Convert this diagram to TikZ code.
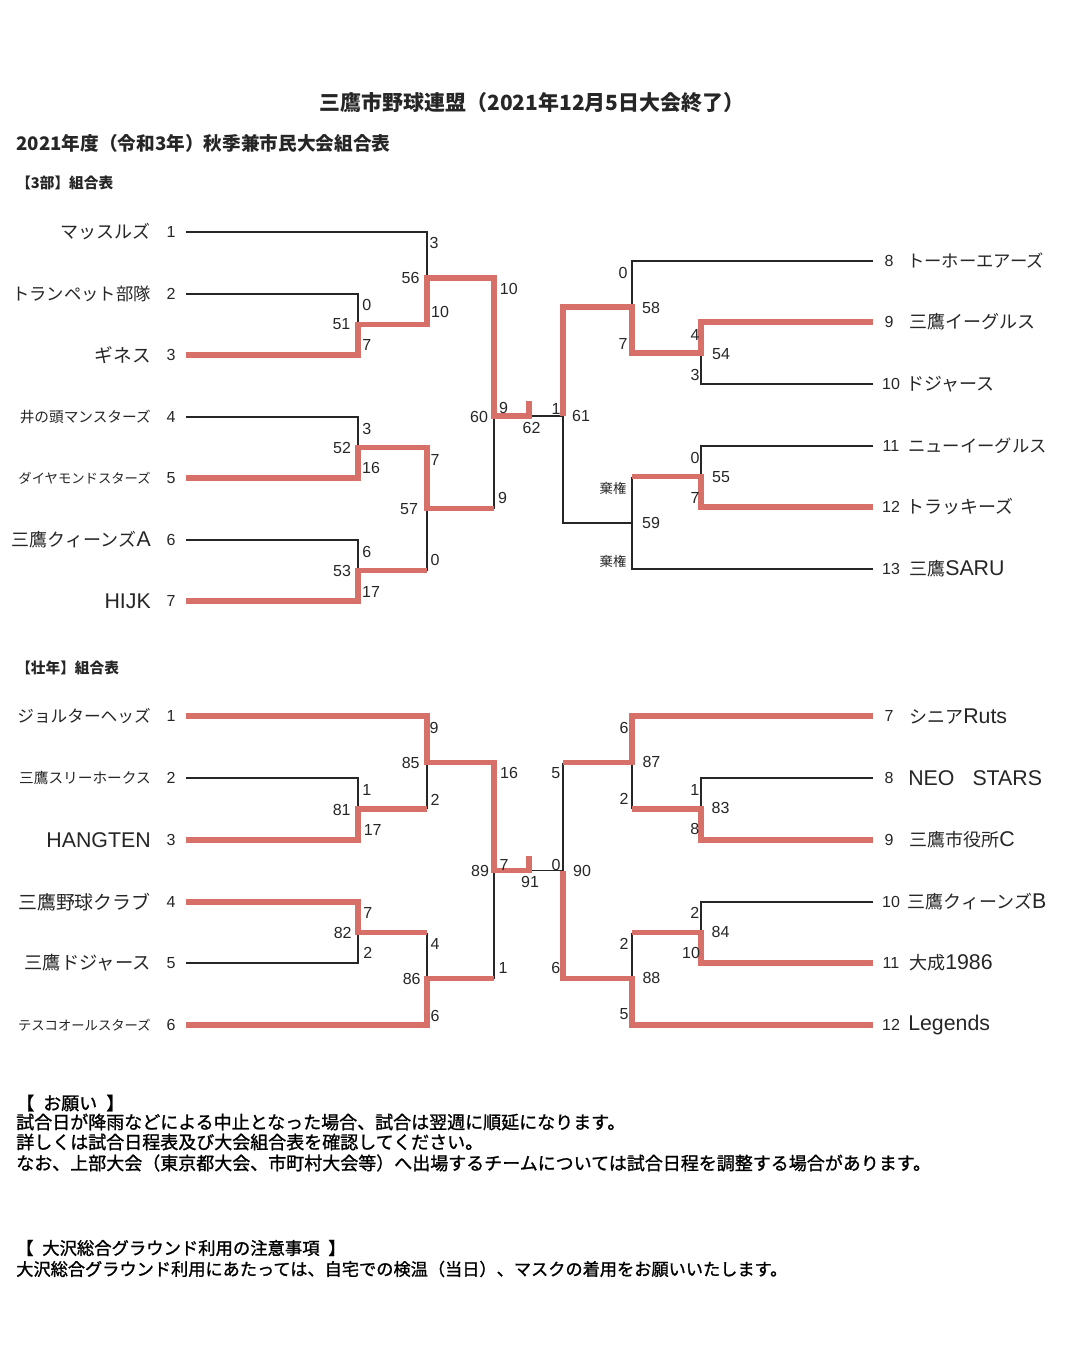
\documentclass[tikz,border=0pt]{standalone}
\usepackage{fontspec}
\setmainfont{Noto Sans CJK JP}
\newfontfamily\latfont{Liberation Sans}
\newfontfamily\footfont{Noto Sans CJK JP}[FakeBold=1.2]
\definecolor{winred}{RGB}{214,112,104}
\definecolor{ink}{RGB}{38,38,38}
\newcommand\latn[1]{{\latfont\fontsize{16}{18}\selectfont #1}}
\tikzset{
  lose/.style={draw=ink, line width=1pt},
  win/.style={draw=winred, line width=4pt, line join=miter},
  sc/.style={font=\latfont\fontsize{12}{13}\selectfont, text=ink, inner sep=0pt},
  tnum/.style={font=\latfont\fontsize{12}{13}\selectfont, text=ink, inner sep=0pt},
  lname/.style={anchor=east, inner sep=0pt, text=ink, font=\fontsize{13.5}{15}\selectfont},
  rname/.style={anchor=west, inner sep=0pt, text=ink, font=\fontsize{13.5}{15}\selectfont},
  kiken/.style={inner sep=0pt, text=ink, font=\fontsize{10}{11}\selectfont},
  head/.style={anchor=west, inner sep=0pt, text=ink},
  foot/.style={anchor=west, inner sep=0pt, text=black, font=\footfont\fontsize{13.5}{14}\selectfont}
}
\begin{document}
\begin{tikzpicture}[x=0.75pt,y=-0.75pt]
\useasboundingbox (0,0) rectangle (1092,1368);
\fill[white] (0,0) rectangle (1092,1368);

% ---------------- headings
\node[inner sep=0pt, text=ink, font=\bfseries\fontsize{15.7}{17}\selectfont] (title) at (532,103) {三鷹市野球連盟（2021年12月5日大会終了）};
\node[head, font=\bfseries\fontsize{14}{16}\selectfont] (sub) at (16,143) {2021年度（令和3年）秋季兼市民大会組合表};
\node[head, font=\bfseries\fontsize{11}{13}\selectfont] (sec1) at (16,183) {【3部】組合表};
\node[head, font=\bfseries\fontsize{11}{13}\selectfont] (sec2) at (16,668) {【壮年】組合表};

% ================= 3部 =================
\node[lname] (tA1) at (151,232) {マッスルズ};
\node[lname, font=\fontsize{13}{15}\selectfont] (tA2) at (151,294) {トランペット部隊};
\node[lname, font=\fontsize{14}{15}\selectfont] (tA3) at (151,355) {ギネス};
\node[lname, font=\fontsize{11}{13}\selectfont] (tA4) at (151,417) {井の頭マンスターズ};
\node[lname, font=\fontsize{10}{12}\selectfont] (tA5) at (151,478) {ダイヤモンドスターズ};
\node[lname] (tA6) at (151,540) {三鷹クィーンズ\latn{A}};
\node[lname] (tA7) at (151,601) {\latn{HIJK}};
\foreach \n/\y in {1/232,2/294,3/355,4/417,5/478,6/540,7/601}
  \node[tnum] (nA\n) at (171,\y) {\n};
\foreach \n/\y/\xx in {8/261/889,9/322/889,10/384/891,11/446/891,12/507/891,13/569/891}
  \node[tnum] (nA\n) at (\xx,\y) {\n};
\node[rname, font=\fontsize{13}{15}\selectfont] (tA8) at (907,261) {トーホーエアーズ};
\node[rname] (tA9) at (909,322) {三鷹イーグルス};
\node[rname] (tA10) at (906,384) {ドジャース};
\node[rname, font=\fontsize{13}{15}\selectfont] (tA11) at (908,446) {ニューイーグルス};
\node[rname] (tA12) at (906,507) {トラッキーズ};
\node[rname] (tA13) at (909,569) {三鷹\latn{SARU}};

\coordinate (s1) at (186,232); \coordinate (s2) at (186,294);
\coordinate (s3) at (186,355); \coordinate (s4) at (186,417);
\coordinate (s5) at (186,478); \coordinate (s6) at (186,540);
\coordinate (s7) at (186,601);
\coordinate (e8) at (873,261); \coordinate (e9) at (873,322);
\coordinate (e10) at (873,384); \coordinate (e11) at (873,446);
\coordinate (e12) at (873,507); \coordinate (e13) at (873,569);
\coordinate (a51) at (358,324.5); \coordinate (a52) at (358,447.5);
\coordinate (a53) at (358,570.5);
\coordinate (a56) at (427,278); \coordinate (a57) at (427,508.5);
\coordinate (k53) at (427,570.5); \coordinate (j57) at (494,508.5);
\coordinate (a60) at (494,416);
\coordinate (f62) at (529,416); \coordinate (f62t) at (529,401);
\coordinate (a61) at (563,416);
\coordinate (b58) at (632,307); \coordinate (b59) at (632,523);
\coordinate (b54) at (701,353); \coordinate (b55) at (701,476.5);
\coordinate (k55) at (632,476.5);

\draw[lose] (s1) -| (a56);
\draw[lose] (s2) -| (a51);
\draw[lose] (s4) -| (a52);
\draw[lose] (s6) -| (a53);
\draw[lose] (k53) -- (a57);
\draw[lose] (j57) -- (a60);
\draw[lose] (f62) -- (a61) |- (b59);
\draw[lose] (e8) -| (b58);
\draw[lose] (e10) -| (b54);
\draw[lose] (e11) -| (b55);
\draw[lose] (k55) -- (b59);
\draw[lose] (e13) -| (b59);
\draw[win] (s3) -| (a51) -| (a56) -| (a60) -- (f62) -- (f62t);
\draw[win] (s5) -| (a52) -| (a57) -- (j57);
\draw[win] (s7) -| (a53) -- (k53);
\draw[win] (e9) -| (b54) -| (b58) -| (a61);
\draw[win] (e12) -| (b55) -- (k55);

\foreach \x/\y/\t [count=\i] in {
  434/243/3, 410.5/277.7/56, 440/311.7/10, 508.8/289/10,
  366.7/305/0, 341.4/324.3/51, 366.7/345/7,
  366.7/429/3, 342/448/52, 371/468/16, 435/460/7, 409/509/57, 502.5/498/9,
  366.7/551.7/6, 342/570.7/53, 371/591.7/17, 435/560/0,
  479/416.7/60, 503.5/408/9, 531.6/428/62,
  556/409/1, 581/416/61,
  623/273/0, 651/308/58, 623/344/7, 695/335/4, 721/354/54, 695/375/3,
  695/458/0, 721/477/55, 695/498/7, 651/523/59}
  \node[sc] (scA\i) at (\x,\y) {\t};
\node[kiken] (kk1) at (613,488) {棄権};
\node[kiken] (kk2) at (613,561) {棄権};

% ================= 壮年 =================
\node[lname, font=\fontsize{12.5}{14}\selectfont] (tB1) at (151,716) {ジョルターヘッズ};
\node[lname, font=\fontsize{11}{13}\selectfont] (tB2) at (151,778) {三鷹スリーホークス};
\node[lname] (tB3) at (151,840) {\latn{HANGTEN}};
\node[lname, font=\fontsize{14.2}{16}\selectfont] (tB4) at (151,902) {三鷹野球クラブ};
\node[lname, font=\fontsize{13.7}{15}\selectfont] (tB5) at (151,963) {三鷹ドジャース};
\node[lname, font=\fontsize{10}{12}\selectfont] (tB6) at (151,1025) {テスコオールスターズ};
\foreach \n/\y in {1/716,2/778,3/840,4/902,5/963,6/1025}
  \node[tnum] (nB\n) at (171,\y) {\n};
\foreach \n/\y/\xx in {7/716/889,8/778/889,9/840/889,10/902/891,11/963/891,12/1025/891}
  \node[tnum] (nB\n) at (\xx,\y) {\n};
\node[rname] (tB7) at (909,716) {シニア\latn{Ruts}};
\node[rname] (tB8) at (908,778) {\latn{NEO}　\latn{STARS}};
\node[rname] (tB9) at (909,840) {三鷹市役所\latn{C}};
\node[rname] (tB10) at (907,902) {三鷹クィーンズ\latn{B}};
\node[rname] (tB11) at (909,963) {大成\latn{1986}};
\node[rname] (tB12) at (908,1025) {\latn{Legends}};

\coordinate (u1) at (186,716); \coordinate (u2) at (186,778);
\coordinate (u3) at (186,840); \coordinate (u4) at (186,902);
\coordinate (u5) at (186,963); \coordinate (u6) at (186,1025);
\coordinate (v7) at (873,716); \coordinate (v8) at (873,778);
\coordinate (v9) at (873,840); \coordinate (v10) at (873,902);
\coordinate (v11) at (873,963); \coordinate (v12) at (873,1025);
\coordinate (c81) at (358,809); \coordinate (c82) at (358,932.5);
\coordinate (k81) at (427,809); \coordinate (k82) at (427,932.5);
\coordinate (c85) at (427,762.5); \coordinate (c86) at (427,978.7);
\coordinate (j86) at (494,978.7);
\coordinate (c89) at (494,870.6);
\coordinate (f91) at (529,870.6); \coordinate (f91t) at (529,856);
\coordinate (c90) at (563,870.6);
\coordinate (k87) at (563,762.5);
\coordinate (d87) at (632,762.5); \coordinate (d88) at (632,978.7);
\coordinate (d83) at (701,809); \coordinate (d84) at (701,932.5);
\coordinate (k83) at (632,809); \coordinate (k84) at (632,932.5);

\draw[lose] (u2) -| (c81);
\draw[lose] (k81) -- (c85);
\draw[lose] (u5) -| (c82);
\draw[lose] (k82) -- (c86);
\draw[lose] (j86) -- (c89);
\draw[lose] (f91) -- (c90);
\draw[lose] (k87) -- (c90);
\draw[lose] (v8) -| (d83);
\draw[lose] (k83) -- (d87);
\draw[lose] (v10) -| (d84);
\draw[lose] (k84) -- (d88);

\draw[win] (u1) -| (c85) -| (c89) -- (f91) -- (f91t);
\draw[win] (u3) -| (c81) -- (k81);
\draw[win] (u4) -| (c82) -- (k82);
\draw[win] (u6) -| (c86) -- (j86);
\draw[win] (v7) -| (d87) -- (k87);
\draw[win] (v9) -| (d83) -- (k83);
\draw[win] (v11) -| (d84) -- (k84);
\draw[win] (v12) -| (d88) -| (c90);

\foreach \x/\y/\t [count=\i] in {
  434/727.7/9, 410.7/762.7/85, 366.7/790/1, 341.7/810/81, 435/800/2,
  372.7/830/17, 509/773/16, 367.7/913/7, 342.7/933/82, 435/944/4,
  367.7/953/2, 411.7/979/86, 435/1015.7/6, 480/870.7/89, 504/865/7,
  530/881.7/91, 503/967.7/1,
  556/865/0, 582/871/90, 555.7/773/5, 555.7/967.7/6,
  624/727.7/6, 651.4/761.7/87, 624/799/2, 694.7/790/1, 720.6/808.3/83,
  694.7/829.3/8, 694.7/913/2, 720.6/932.3/84, 624/944.3/2, 691/953.3/10,
  651.4/978.3/88, 624/1014/5}
  \node[sc] (scB\i) at (\x,\y) {\t};

% ================= notes =================
\node[foot] (ft1) at (16,1103) {【\hspace{0.5em}お願い\hspace{0.5em}】};
\node[foot] (ft2) at (16,1122) {試合日が降雨などによる中止となった場合、試合は翌週に順延になります。};
\node[foot] (ft3) at (16,1142) {詳しくは試合日程表及び大会組合表を確認してください。};
\node[foot] (ft4) at (16,1163) {なお、上部大会（東京都大会、市町村大会等）へ出場するチームについては試合日程を調整する場合があります。};
\node[foot, font=\footfont\fontsize{13}{14}\selectfont] (ft5) at (16,1248) {【\hspace{0.5em}大沢総合グラウンド利用の注意事項\hspace{0.5em}】};
\node[foot, font=\footfont\fontsize{12.9}{14}\selectfont] (ft6) at (16,1269) {大沢総合グラウンド利用にあたっては、自宅での検温（当日）、マスクの着用をお願いいたします。};
\end{tikzpicture}
\end{document}
